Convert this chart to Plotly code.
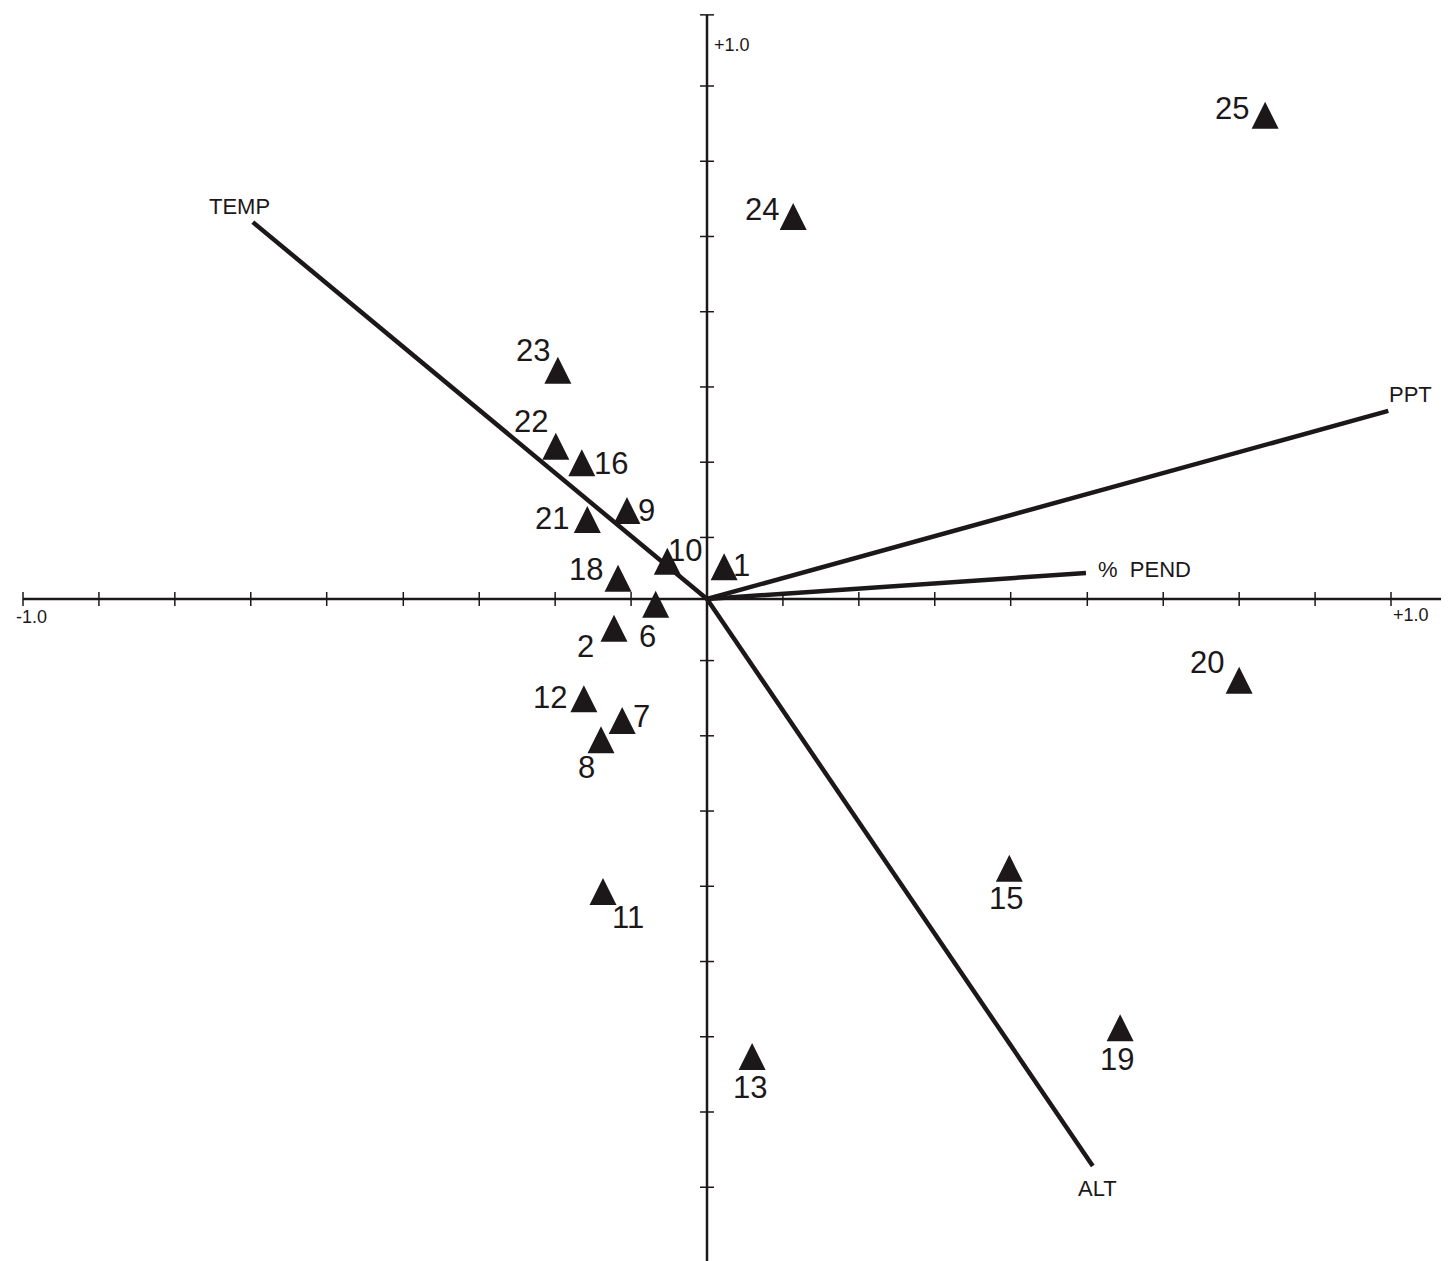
"""Biplot CCA — sitios (triangulos) y variables ambientales (vectores)."""

import plotly.graph_objects as go

INK = "#1c1819"
FONT_FAMILY = "'Liberation Sans', Arial, sans-serif"

# sitios: etiqueta y coordenadas (ejes 1 y 2)
SITES = ["1", "2", "6", "7", "8", "9", "10", "11", "12", "13",
         "15", "16", "18", "19", "20", "21", "22", "23", "24", "25"]
SITE_X = [0.025, -0.136, -0.075, -0.124, -0.155, -0.117, -0.058, -0.152, -0.180, 0.066,
          0.442, -0.183, -0.130, 0.604, 0.778, -0.175, -0.221, -0.218, 0.126, 0.816]
SITE_Y = [0.067, -0.023, 0.012, -0.158, -0.186, 0.149, 0.075, -0.408, -0.126, -0.649,
          -0.374, 0.219, 0.050, -0.607, -0.099, 0.136, 0.243, 0.354, 0.579, 0.727]

# variables ambientales (puntas de los vectores)
VARS = ["TEMP", "PPT", "%  PEND", "ALT"]
VAR_X = [-0.664, 0.996, 0.554, 0.564]
VAR_Y = [0.551, 0.275, 0.038, -0.829]

# ejes y marcas
X_AXIS_END = [-1.0, 1.08]
Y_AXIS_END = [-0.97, 0.854]
X_TICKS = [-1.0, -0.889, -0.778, -0.667, -0.556, -0.444, -0.333, -0.222, -0.111,
           0.111, 0.222, 0.333, 0.444, 0.556, 0.667, 0.778, 0.889, 1.0, 1.08]
Y_TICKS = [0.854, 0.75, 0.64, 0.53, 0.42, 0.31, 0.20, 0.09,
           -0.09, -0.20, -0.31, -0.42, -0.53, -0.64, -0.75, -0.86]
AXIS_LABELS = ["-1.0", "+1.0", "+1.0", "-1.0"]

# desplazamientos (px) de las etiquetas de sitio respecto a la punta del triangulo
LABEL_DX = [17, -28, -8, 19, -14, 20, 18, 25, -34, -2, -3, 29, -32, -3, -32, -35, -25, -25, -31, -33]
LABEL_DY = [12, 32, 46, 9, 41, 13, 3, 39, 12, 45, 44, 14, 5, 45, -4, 13, -11, -6, 7, 7]
VAR_DX = [-13, 22, 59, 5]
VAR_DY = [-16, -16, -4, 22]

# la pagina deja 8 px de margen: la figura se recorta a eso
W, H = 1441, 1253
PX_UNIT = 684.0
ORIGIN = (699, 591)

fig = go.Figure()

# ejes
fig.add_trace(go.Scatter(x=X_AXIS_END, y=[0, 0], mode="lines",
                         line=dict(color=INK, width=2.5), hoverinfo="skip"))
fig.add_trace(go.Scatter(x=[0, 0], y=Y_AXIS_END, mode="lines",
                         line=dict(color=INK, width=2.5), hoverinfo="skip"))
fig.add_trace(go.Scatter(x=X_TICKS, y=[0] * len(X_TICKS), mode="markers",
                         marker=dict(symbol="line-ns", size=10, line=dict(color=INK, width=1.5)),
                         hoverinfo="skip"))
fig.add_trace(go.Scatter(x=[0] * len(Y_TICKS), y=Y_TICKS, mode="markers",
                         marker=dict(symbol="line-ew", size=10, line=dict(color=INK, width=1.5)),
                         hoverinfo="skip"))

# vectores
for vx, vy in zip(VAR_X, VAR_Y):
    fig.add_trace(go.Scatter(x=[0, vx], y=[0, vy], mode="lines",
                             line=dict(color=INK, width=4.5), hoverinfo="skip"))

# sitios
fig.add_trace(go.Scatter(
    x=SITE_X, y=SITE_Y, mode="markers",
    marker=dict(symbol="arrow-up", size=27, color=INK, line=dict(width=0)),
    text=SITES, hovertemplate="Sitio %{text}<br>(%{x}, %{y})<extra></extra>",
))

annotations = []
for s, x, y, dx, dy in zip(SITES, SITE_X, SITE_Y, LABEL_DX, LABEL_DY):
    annotations.append(dict(x=x, y=y, text=s, showarrow=False, xshift=dx, yshift=-dy,
                            xanchor="center", yanchor="middle",
                            font=dict(size=31, color=INK, family=FONT_FAMILY)))
for v, x, y, dx, dy in zip(VARS, VAR_X, VAR_Y, VAR_DX, VAR_DY):
    annotations.append(dict(x=x, y=y, text=v, showarrow=False, xshift=dx, yshift=-dy,
                            xanchor="center", yanchor="middle",
                            font=dict(size=22, color=INK, family=FONT_FAMILY)))

# rotulos de los extremos de los ejes
ends = [
    (X_AXIS_END[0], 0, "right", "top", 26, -6),
    (X_TICKS[-2], 0, "left", "top", 0, -4),
    (0, Y_AXIS_END[1], "left", "top", 5, -18),
    (0, Y_AXIS_END[0], "right", "bottom", -10, 0),
]
for lab, (x, y, xa, ya, dx, dy) in zip(AXIS_LABELS, ends):
    annotations.append(dict(x=x, y=y, text=lab, showarrow=False, xanchor=xa, yanchor=ya,
                            xshift=dx, yshift=dy,
                            font=dict(size=18, color=INK, family=FONT_FAMILY)))

x_range = [-ORIGIN[0] / PX_UNIT, (W - ORIGIN[0]) / PX_UNIT]
y_range = [(ORIGIN[1] - H) / PX_UNIT, ORIGIN[1] / PX_UNIT]

fig.update_layout(
    width=W, height=H,
    margin=dict(l=0, r=0, t=0, b=0),
    paper_bgcolor="white", plot_bgcolor="white",
    showlegend=False,
    annotations=annotations,
    xaxis=dict(range=x_range, visible=False, fixedrange=True),
    yaxis=dict(range=y_range, visible=False, fixedrange=True),
    font=dict(family=FONT_FAMILY, color=INK),
)

fig.write_html("out.html", config={"displayModeBar": False})
